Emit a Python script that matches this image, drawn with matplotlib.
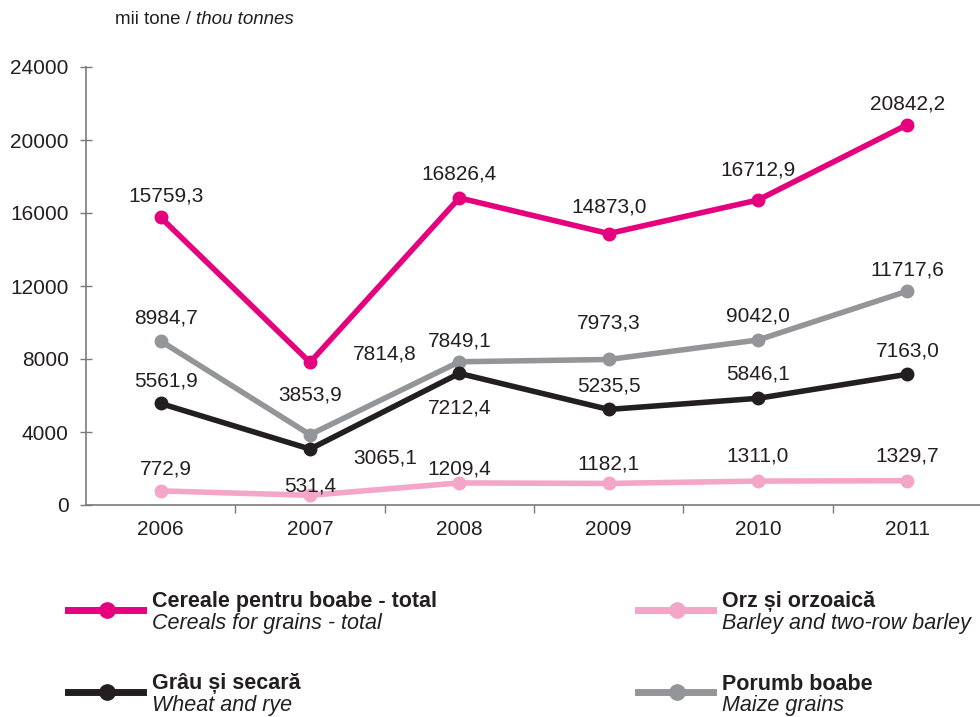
import numpy as np
import matplotlib.pyplot as plt
from matplotlib.lines import Line2D

plt.rcParams['font.family'] = ['Liberation Sans', 'DejaVu Sans']

years = ['2006', '2007', '2008', '2009', '2010', '2011']
cereals = [15759.3, 7814.8, 16826.4, 14873.0, 16712.9, 20842.2]
maize = [8984.7, 3853.9, 7849.1, 7973.3, 9042.0, 11717.6]
wheat = [5561.9, 3065.1, 7212.4, 5235.5, 5846.1, 7163.0]
barley = [772.9, 531.4, 1209.4, 1182.1, 1311.0, 1329.7]

c_cer = '#e5007d'
c_mai = '#939598'
c_whe = '#231f20'
c_bar = '#f4a6c8'
txt = '#231f20'

# label offsets in pixels (dx, dy) for each point
off_cer = [(5, 21), (75, 8), (0, 24), (0, 27), (0, 30), (0, 21)]
off_mai = [(5, 23), (0, 40), (0, 21), (0, 36), (0, 24), (0, 21)]
off_whe = [(5, 22), (75, -9), (0, -35), (0, 23), (0, 24), (0, 23)]
off_bar = [(5, 22), (0, 9), (0, 14), (0, 19), (0, 25), (0, 25)]

fig = plt.figure(figsize=(9.8, 7.17), dpi=100)
ax = fig.add_axes([86 / 980, 1 - 505 / 717, 896 / 980, 438 / 717])

x = np.arange(len(years))
series = [(cereals, c_cer, off_cer), (maize, c_mai, off_mai),
          (wheat, c_whe, off_whe), (barley, c_bar, off_bar)]
for vals, col, offs in series:
    ax.plot(x, vals, color=col, lw=4, marker='o', ms=9, zorder=3,
            solid_joinstyle='miter')
    for xi, v, (dx, dy) in zip(x, vals, offs):
        ax.annotate(f'{v:.1f}'.replace('.', ','), (xi, v), xytext=(dx, dy),
                    textcoords='offset pixels', ha='center', va='center',
                    fontsize=15, color=txt)

ax.set_xlim(-0.5, 5.5)
ax.set_ylim(0, 24000)
ax.set_yticks(np.arange(0, 24001, 4000))
ax.set_xticks(x)
ax.set_xticklabels(years)
ax.set_xticks(np.arange(0.5, 5.5, 1), minor=True)
for s in ['top', 'right']:
    ax.spines[s].set_visible(False)
for s in ['left', 'bottom']:
    ax.spines[s].set_color('#7a7a7a')
    ax.spines[s].set_linewidth(1.2)
ax.tick_params(axis='y', direction='inout', length=9, width=1, color='#7a7a7a',
               labelsize=15, labelcolor=txt, pad=8)
ax.tick_params(axis='x', which='major', length=0, labelsize=15,
               labelcolor=txt, pad=11)
ax.tick_params(axis='x', which='minor', direction='out', length=6, width=1,
               color='#7a7a7a')

t1 = fig.text(115 / 980, 1 - 20 / 717, 'mii tone / ', fontsize=13.5,
              color=txt, va='center')
ax.annotate('thou tonnes', xy=(1, 0.5), xycoords=t1, va='center',
            fontsize=13.5, color=txt, style='italic', annotation_clip=False)

# legend drawn in pixel coordinates
lg = fig.add_axes([0, 0, 1, 1])
lg.set_xlim(0, 980)
lg.set_ylim(717, 0)
lg.axis('off')
entries = [
    (68, 610, c_cer, 'Cereale pentru boabe - total', 'Cereals for grains - total'),
    (68, 692, c_whe, 'Grâu și secară', 'Wheat and rye'),
    (638, 610, c_bar, 'Orz și orzoaică', 'Barley and two-row barley'),
    (638, 692, c_mai, 'Porumb boabe', 'Maize grains'),
]
for lx, ly, col, ro, en in entries:
    lg.add_line(Line2D([lx, lx + 75], [ly, ly], color=col, lw=5))
    lg.add_line(Line2D([lx + 39], [ly], color=col, marker='o', ms=11))
    lg.text(lx + 84, ly - 8, ro, fontsize=15.5, fontweight='bold', color=txt,
            va='center')
    lg.text(lx + 84, ly + 14, en, fontsize=15.5, style='italic', color=txt,
            va='center')

fig.savefig('out.png', dpi=100)
